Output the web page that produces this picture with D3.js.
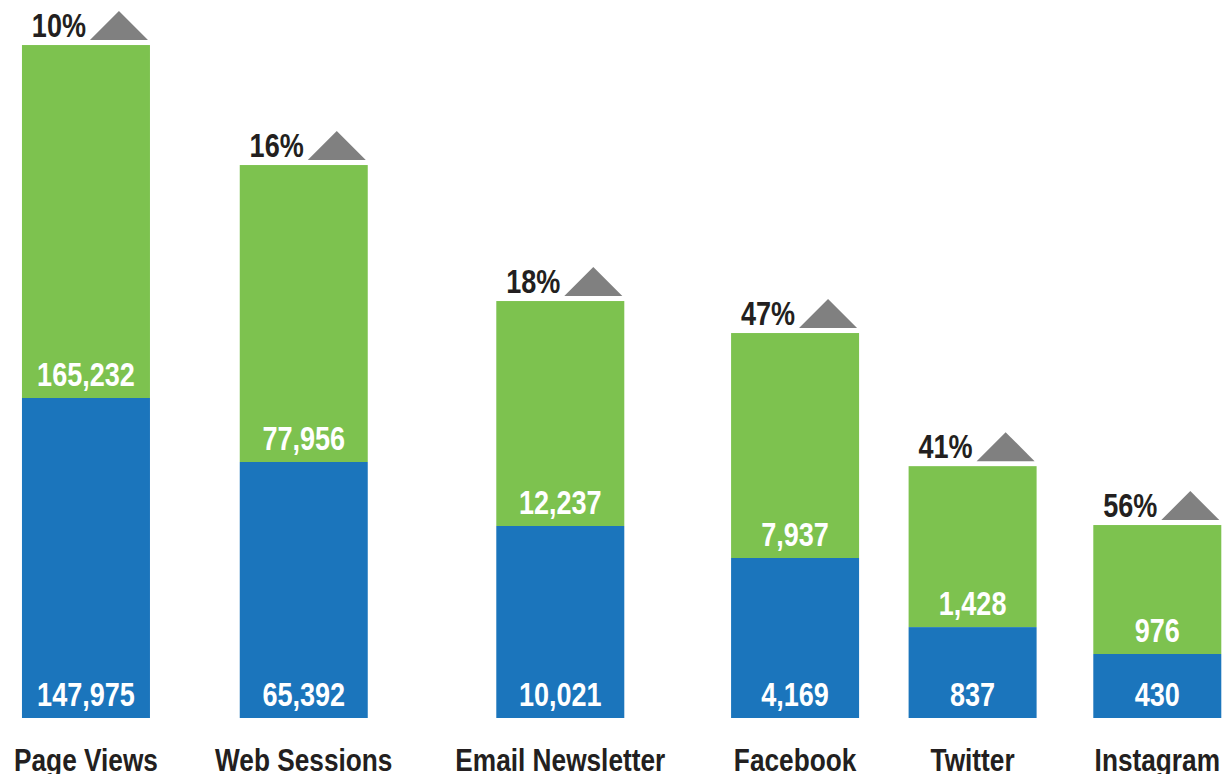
<!DOCTYPE html>
<html>
<head>
<meta charset="utf-8">
<script src="https://d3js.org/d3.v7.min.js"></script>
<style>
  body { margin: 0; background: #fff; }
  text { font-family: "Liberation Sans", Arial, sans-serif; font-weight: bold; }
</style>
</head>
<body>
<script>
// channels, last period (blue) and this period (green)
var categories = ["Page Views", "Web Sessions", "Email Newsletter", "Facebook", "Twitter", "Instagram"];
var lastYear = [147975, 65392, 10021, 4169, 837, 430];
var thisYear = [165232, 77956, 12237, 7937, 1428, 976];
// the infographic is not drawn to scale: bar lengths, in grid units
var lastYearUnits = [10, 8, 6, 5, 2.84, 2];
var thisYearUnits = [11.03, 9.28, 7.03, 7.03, 5.03, 4.03];

var w = 1222;
var h = 774;
var barW = 128;
var narrow = 0.82; // no condensed font installed, squeeze the bold one

var svg = d3.select("body")
  .append("svg")
  .attr("width", w)
  .attr("height", h);

var y = d3.scaleLinear()
  .domain([0, 21])
  .range([718, 46]);

var fmt = d3.format(",");
var pct = d3.format(".0%");

var data = categories.map(function(c, i) {
  return {
    name: c,
    last: lastYear[i],
    now: thisYear[i],
    u1: lastYearUnits[i],
    u2: thisYearUnits[i],
    change: (thisYear[i] - lastYear[i]) / thisYear[i]
  };
});

function place(sel, fx, fy) {
  sel.attr("transform", function(d) {
    return "translate(" + fx(d) + "," + fy(d) + ") scale(" + narrow + ",1)";
  });
}

// category labels first, so the columns can be spread by their widths
var labels = svg.selectAll(".cat")
  .data(data)
  .enter()
  .append("text")
  .attr("class", "cat")
  .attr("text-anchor", "middle")
  .style("font-size", "32px")
  .attr("fill", "#231f20")
  .text(function(d) { return d.name; });

var widths = [];
labels.each(function() { widths.push(this.getComputedTextLength() * narrow); });
var left = 14, right = 1220;
// gaps between labels widen a little towards the right
var weights = d3.range(widths.length - 1).map(function(i) { return 1 + 0.1 * i; });
var unit = (right - left - d3.sum(widths)) / d3.sum(weights);
var pos = left;
data.forEach(function(d, i) {
  d.cx = pos + widths[i] / 2;
  pos += widths[i] + (i < weights.length ? weights[i] * unit : 0);
});

place(labels, function(d) { return d.cx; }, function() { return 771; });

var g = svg.selectAll(".col")
  .data(data)
  .enter()
  .append("g")
  .attr("class", "col");

// green: this period, on top
g.append("rect")
  .attr("x", function(d) { return d.cx - barW / 2; })
  .attr("width", barW)
  .attr("y", function(d) { return y(d.u1 + d.u2); })
  .attr("height", function(d) { return y(d.u1) - y(d.u1 + d.u2); })
  .attr("fill", "#7dc24f");

// blue: last period
g.append("rect")
  .attr("x", function(d) { return d.cx - barW / 2; })
  .attr("width", barW)
  .attr("y", function(d) { return y(d.u1); })
  .attr("height", function(d) { return y(0) - y(d.u1); })
  .attr("fill", "#1b75bc");

var lastLbl = g.append("text")
  .attr("text-anchor", "middle")
  .style("font-size", "33px")
  .attr("fill", "#fff")
  .text(function(d) { return fmt(d.last); });
place(lastLbl, function(d) { return d.cx; }, function() { return y(0) - 12; });

var nowLbl = g.append("text")
  .attr("text-anchor", "middle")
  .style("font-size", "33px")
  .attr("fill", "#fff")
  .text(function(d) { return fmt(d.now); });
place(nowLbl, function(d) { return d.cx; }, function(d) { return y(d.u1) - 12; });

// up arrow and change
var triW = 58, triH = 29;
g.append("path")
  .attr("d", function(d) {
    var r = d.cx + barW / 2 - 2;
    var b = y(d.u1 + d.u2) - 5;
    return "M" + (r - triW) + "," + b + "L" + (r - triW / 2) + "," + (b - triH) + "L" + r + "," + b + "Z";
  })
  .attr("fill", "#808080");

var pctLbl = g.append("text")
  .attr("text-anchor", "end")
  .style("font-size", "33px")
  .attr("fill", "#231f20")
  .text(function(d) { return pct(d.change); });
place(pctLbl, function(d) { return d.cx + barW / 2 - 2 - triW - 4; },
  function(d) { return y(d.u1 + d.u2) - 8; });
</script>
</body>
</html>
